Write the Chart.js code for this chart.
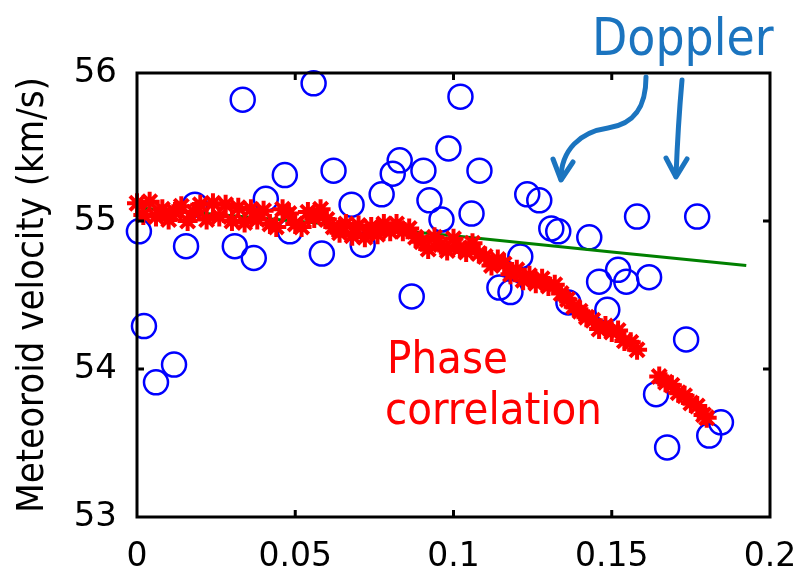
<!DOCTYPE html>
<html>
<head>
<meta charset="utf-8">
<script src="https://cdn.jsdelivr.net/npm/chart.js@4/dist/chart.umd.min.js"></script>
<style>
  html, body { margin: 0; padding: 0; background: #fff; }
  #wrap { width: 803px; height: 586px; position: relative; }
</style>
</head>
<body>
<div id="wrap"><canvas id="c"></canvas></div>
<script>
// Axis ticks
const xTickValues = [0, 0.05, 0.1, 0.15, 0.2];
const xTickLabels = ['0', '0.05', '0.1', '0.15', '0.2'];
const yTickValues = [53, 54, 55, 56];
const yTickLabels = ['53', '54', '55', '56'];

// Doppler velocity estimates (blue circles)
const dopplerX = [0.0006, 0.0022, 0.0060, 0.0117, 0.0155, 0.0183, 0.0309, 0.0334, 0.0369, 0.0407,
                  0.0467, 0.0483, 0.0558, 0.0584, 0.0621, 0.0678, 0.0713, 0.0773, 0.0808, 0.0830,
                  0.0868, 0.0905, 0.0924, 0.0962, 0.0984, 0.1022, 0.1057, 0.1082, 0.1145, 0.1180,
                  0.1211, 0.1233, 0.1271, 0.1309, 0.1331, 0.1363, 0.1429, 0.1460, 0.1486, 0.1520,
                  0.1546, 0.1580, 0.1618, 0.1640, 0.1675, 0.1735, 0.1770, 0.1808, 0.1845];
const dopplerV = [54.93, 54.29, 53.91, 54.03, 54.83, 55.11, 54.83, 55.82, 54.75, 55.15,
                  55.31, 54.93, 55.93, 54.78, 55.34, 55.11, 54.84, 55.18, 55.32, 55.41,
                  54.49, 55.34, 55.14, 55.01, 55.49, 55.84, 55.05, 55.34, 54.55, 54.52,
                  54.76, 55.18, 55.14, 54.95, 54.93, 54.45, 54.89, 54.59, 54.40, 54.67,
                  54.59, 55.03, 54.62, 53.83, 53.47, 54.20, 55.03, 53.55, 53.64];

// Phase correlation velocity estimates (red asterisks)
const phaseX = [0.000, 0.002, 0.004, 0.006, 0.008, 0.010, 0.012, 0.014, 0.016, 0.018,
                0.020, 0.022, 0.024, 0.026, 0.028, 0.030, 0.032, 0.034, 0.036, 0.038,
                0.040, 0.042, 0.044, 0.046, 0.048, 0.050, 0.052, 0.054, 0.056, 0.058,
                0.060, 0.062, 0.064, 0.066, 0.068, 0.070, 0.072, 0.074, 0.076, 0.078,
                0.080, 0.082, 0.084, 0.086, 0.088, 0.090, 0.092, 0.094, 0.096, 0.098,
                0.100, 0.102, 0.104, 0.106, 0.108, 0.110, 0.112, 0.114, 0.116, 0.118,
                0.120, 0.122, 0.124, 0.126, 0.128, 0.130, 0.132, 0.134, 0.136, 0.138,
                0.140, 0.142, 0.144, 0.146, 0.148, 0.150, 0.152, 0.154, 0.156, 0.158,
                0.165, 0.167, 0.169, 0.171, 0.173, 0.175, 0.177, 0.179, 0.180];
const phaseV = [55.12, 55.04, 55.13, 55.03, 55.08, 55.01, 55.06, 55.10, 55.00, 55.06,
                55.11, 55.01, 55.12, 55.03, 55.11, 55.00, 55.09, 54.99, 55.08, 55.01,
                55.07, 54.98, 54.96, 55.08, 55.05, 54.98, 54.96, 55.06, 55.02, 55.08,
                55.01, 54.96, 54.92, 54.98, 54.90, 54.97, 54.89, 54.96, 54.91, 54.98,
                54.93, 54.98, 54.93, 54.95, 54.89, 54.86, 54.81, 54.89, 54.84, 54.80,
                54.88, 54.82, 54.79, 54.85, 54.78, 54.76, 54.70, 54.74, 54.71, 54.64,
                54.67, 54.60, 54.63, 54.58, 54.61, 54.56, 54.57, 54.51, 54.47, 54.42,
                54.39, 54.35, 54.33, 54.27, 54.29, 54.25, 54.26, 54.19, 54.18, 54.13,
                53.95, 53.91, 53.89, 53.84, 53.82, 53.77, 53.75, 53.69, 53.67];

// Doppler trend line (green)
const fitX = [0, 0.05, 0.1, 0.15, 0.1925];
const fitV = [55.09, 55.00, 54.90, 54.79, 54.70];

const toPoints = (xs, ys) => xs.map((x, i) => ({ x, y: ys[i] }));

const FONT = "'DejaVu Sans Condensed', 'DejaVu Sans', sans-serif";
const TICK_FONT = "'DejaVu Sans', sans-serif";

// Box frame, inward tick marks and hand-drawn style annotations
const decorations = {
  id: 'decorations',
  afterDatasetsDraw(chart) {
    const { ctx, chartArea: a, scales } = chart;
    ctx.save();
    ctx.strokeStyle = '#000';
    ctx.lineWidth = 3;
    ctx.lineCap = 'butt';
    ctx.strokeRect(a.left, a.top, a.right - a.left, a.bottom - a.top);
    const tl = 7;
    ctx.beginPath();
    xTickValues.slice(1, -1).forEach(v => {
      const px = scales.x.getPixelForValue(v);
      ctx.moveTo(px, a.bottom); ctx.lineTo(px, a.bottom - tl);
      ctx.moveTo(px, a.top); ctx.lineTo(px, a.top + tl);
    });
    yTickValues.slice(1, -1).forEach(v => {
      const py = scales.y.getPixelForValue(v);
      ctx.moveTo(a.left, py); ctx.lineTo(a.left + tl, py);
      ctx.moveTo(a.right, py); ctx.lineTo(a.right - tl, py);
    });
    ctx.stroke();

    // "Doppler" label with its two arrows
    const blue = '#1b74bf';
    ctx.fillStyle = blue;
    ctx.font = '51px ' + FONT;
    ctx.textBaseline = 'alphabetic';
    ctx.textAlign = 'left';
    ctx.fillText('Doppler', 592, 55);

    ctx.strokeStyle = blue;
    ctx.lineWidth = 5;
    ctx.lineCap = 'round';
    ctx.lineJoin = 'round';
    ctx.beginPath();
    ctx.moveTo(646, 77);
    ctx.bezierCurveTo(646, 105, 636, 124, 608, 128);
    ctx.bezierCurveTo(580, 132, 561, 150, 561, 179);
    ctx.stroke();
    ctx.beginPath();
    ctx.moveTo(553, 159); ctx.lineTo(561, 180); ctx.lineTo(573, 162);
    ctx.stroke();

    ctx.beginPath();
    ctx.moveTo(682, 80);
    ctx.quadraticCurveTo(678, 125, 676, 176);
    ctx.stroke();
    ctx.beginPath();
    ctx.moveTo(666, 158); ctx.lineTo(676, 177); ctx.lineTo(687, 159);
    ctx.stroke();

    // "Phase correlation" label
    ctx.fillStyle = '#ff0000';
    ctx.font = '45px ' + FONT;
    ctx.fillText('Phase', 387, 373);
    ctx.fillText('correlation', 385, 424);
    ctx.restore();
  }
};

new Chart(document.getElementById('c'), {
  type: 'scatter',
  data: {
    datasets: [
      {
        label: 'Phase correlation',
        data: toPoints(phaseX, phaseV),
        pointStyle: 'star',
        pointRadius: 10,
        borderWidth: 4,
        borderColor: '#ff0000',
        backgroundColor: '#ff0000',
        clip: false,
        order: 0
      },
      {
        label: 'Doppler trend',
        type: 'line',
        data: toPoints(fitX, fitV),
        borderColor: '#008000',
        borderWidth: 3,
        pointRadius: 0,
        fill: false,
        tension: 0,
        order: 1
      },
      {
        label: 'Doppler',
        data: toPoints(dopplerX, dopplerV),
        pointStyle: 'circle',
        pointRadius: 12,
        borderWidth: 2.5,
        borderColor: '#0000ff',
        backgroundColor: 'rgba(0,0,0,0)',
        clip: false,
        order: 2
      }
    ]
  },
  options: {
    responsive: true,
    maintainAspectRatio: false,
    animation: false,
    events: [],
    layout: { padding: { left: 0, right: 33, top: 73, bottom: 0 } },
    plugins: { legend: { display: false }, tooltip: { enabled: false } },
    scales: {
      x: {
        type: 'linear',
        min: 0, max: 0.2,
        afterBuildTicks: s => { s.ticks = xTickValues.map(v => ({ value: v })); },
        afterFit: s => { s.height = 69; s.paddingLeft = 0; s.paddingRight = 0; },
        grid: { display: false, drawTicks: false },
        border: { display: false },
        ticks: {
          callback: (v, i) => xTickLabels[i],
          color: '#000',
          padding: 21,
          maxRotation: 0,
          font: { family: TICK_FONT, size: 33, lineHeight: 1.2 }
        }
      },
      y: {
        type: 'linear',
        min: 53, max: 56,
        afterBuildTicks: s => { s.ticks = yTickValues.map(v => ({ value: v })); },
        afterFit: s => { s.width = 137; s.paddingTop = 0; s.paddingBottom = 0; },
        grid: { display: false, drawTicks: false },
        border: { display: false },
        ticks: {
          callback: (v, i) => yTickLabels[i],
          color: '#000',
          padding: 20,
          font: { family: TICK_FONT, size: 34, lineHeight: 1.2 }
        },
        title: {
          display: true,
          text: 'Meteoroid velocity (km/s)',
          color: '#000',
          padding: { top: 14, bottom: 0 },
          font: { family: FONT, size: 38, lineHeight: 1 }
        }
      }
    }
  },
  plugins: [decorations]
});
</script>
</body>
</html>
